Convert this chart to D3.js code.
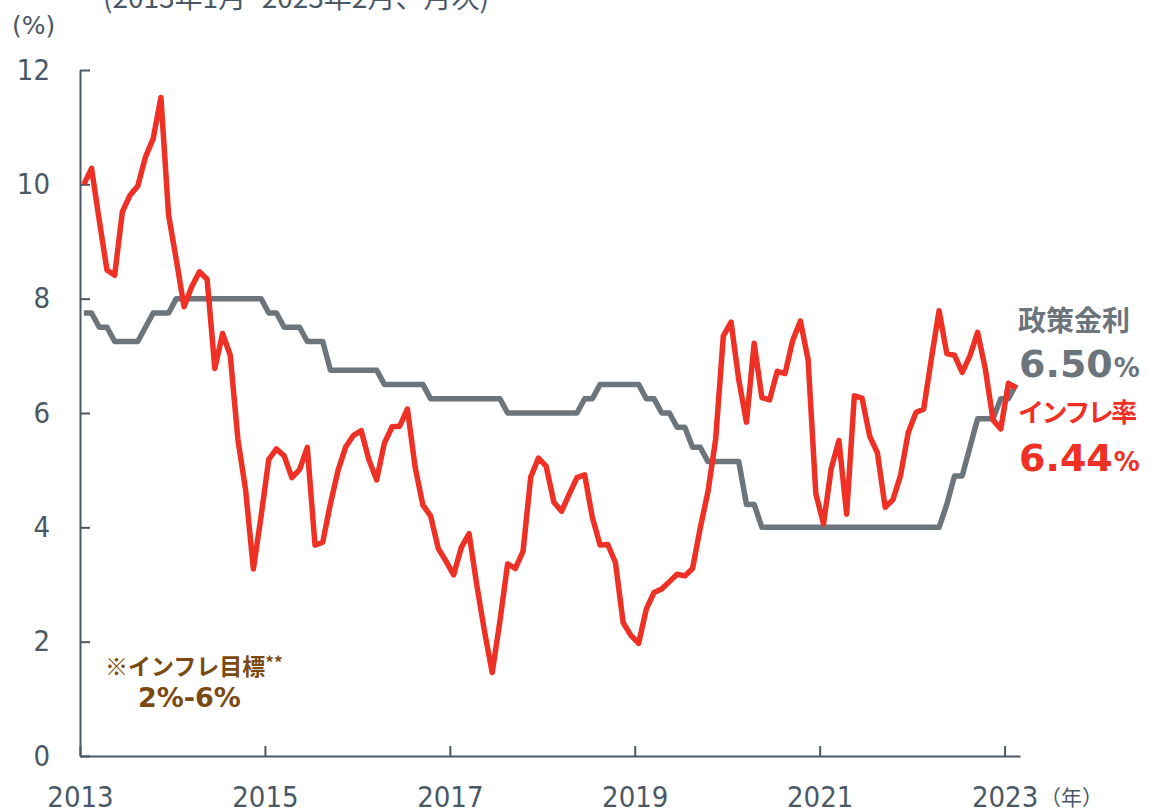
<!DOCTYPE html>
<html>
<head>
<meta charset="utf-8">
<script src="https://cdn.jsdelivr.net/npm/d3@7"></script>
<style>
  body { margin: 0; background: #fff; }
  svg { display: block; }
  .axis path, .axis line { stroke: #4a5866; stroke-width: 2; }
  .axis text {
    fill: #4a5866;
    font-family: "DejaVu Sans Condensed", "DejaVu Sans", sans-serif;
    font-stretch: condensed;
    font-size: 29px;
  }
</style>
</head>
<body>
<svg id="chart" width="1153" height="809"></svg>
<script>
// monthly, Jan 2013 .. Feb 2023 (122 months)
const startYear = 2013;
const monthCount = 122;

// inflation rate (%)
const inflation = [
  10.0, 10.28, 9.37, 8.5, 8.41, 9.52, 9.81, 9.97, 10.48, 10.8, 11.52, 9.46,
  8.68, 7.86, 8.21, 8.47, 8.34, 6.78, 7.39, 7.01, 5.53, 4.65, 3.27, 4.19,
  5.19, 5.37, 5.25, 4.87, 5.01, 5.40, 3.69, 3.74, 4.41, 5.0, 5.41, 5.61,
  5.69, 5.18, 4.83, 5.47, 5.76, 5.77, 6.07, 5.05, 4.39, 4.20, 3.63, 3.41,
  3.17, 3.65, 3.89, 2.99, 2.18, 1.46, 2.36, 3.36, 3.28, 3.58, 4.88, 5.21,
  5.07, 4.44, 4.28, 4.58, 4.87, 4.92, 4.17, 3.69, 3.70, 3.38, 2.33, 2.11,
  1.97, 2.57, 2.86, 2.92, 3.05, 3.18, 3.15, 3.28, 3.99, 4.62, 5.54, 7.35,
  7.59, 6.58, 5.84, 7.22, 6.27, 6.23, 6.73, 6.69, 7.27, 7.61, 6.93, 4.59,
  4.06, 5.03, 5.52, 4.23, 6.30, 6.26, 5.59, 5.30, 4.35, 4.48, 4.91, 5.66,
  6.01, 6.07, 6.95, 7.79, 7.04, 7.01, 6.71, 7.00, 7.41, 6.77, 5.88, 5.72,
  6.52, 6.44
];

// policy rate (%)
const policyRate = [
  7.75, 7.75, 7.5, 7.5, 7.25, 7.25, 7.25, 7.25, 7.5, 7.75, 7.75, 7.75,
  8.0, 8.0, 8.0, 8.0, 8.0, 8.0, 8.0, 8.0, 8.0, 8.0, 8.0, 8.0,
  7.75, 7.75, 7.5, 7.5, 7.5, 7.25, 7.25, 7.25, 6.75, 6.75, 6.75, 6.75,
  6.75, 6.75, 6.75, 6.5, 6.5, 6.5, 6.5, 6.5, 6.5, 6.25, 6.25, 6.25,
  6.25, 6.25, 6.25, 6.25, 6.25, 6.25, 6.25, 6.0, 6.0, 6.0, 6.0, 6.0,
  6.0, 6.0, 6.0, 6.0, 6.0, 6.25, 6.25, 6.5, 6.5, 6.5, 6.5, 6.5,
  6.5, 6.25, 6.25, 6.0, 6.0, 5.75, 5.75, 5.4, 5.4, 5.15, 5.15, 5.15,
  5.15, 5.15, 4.4, 4.4, 4.0, 4.0, 4.0, 4.0, 4.0, 4.0, 4.0, 4.0,
  4.0, 4.0, 4.0, 4.0, 4.0, 4.0, 4.0, 4.0, 4.0, 4.0, 4.0, 4.0,
  4.0, 4.0, 4.0, 4.0, 4.4, 4.9, 4.9, 5.4, 5.9, 5.9, 5.9, 6.25,
  6.25, 6.5
];

const yearTicks = [2013, 2015, 2017, 2019, 2021, 2023];
const yTicks = [0, 2, 4, 6, 8, 10, 12];

const svg = d3.select('#chart');

// month index scale: each month is a slot, points sit in the middle
const x = d3.scaleLinear().domain([0, monthCount]).range([80, 1020]);
const y = d3.scaleLinear().domain([0, 12]).range([756, 70]);

svg.append('g')
  .attr('class', 'axis')
  .attr('transform', 'translate(0,756)')
  .call(d3.axisBottom(x)
    .tickValues(yearTicks.map(yr => (yr - startYear) * 12))
    .tickFormat(i => String(startYear + i / 12))
    .tickSize(-10).tickSizeOuter(0).tickPadding(30));

svg.append('g')
  .attr('class', 'axis')
  .attr('transform', 'translate(80,0)')
  .call(d3.axisLeft(y).tickValues(yTicks).tickSize(-10).tickSizeOuter(0).tickPadding(30));

const line = d3.line()
  .x((d, i) => x(i + 0.5))
  .y(d => y(d));

svg.append('path')
  .datum(policyRate)
  .attr('d', line)
  .attr('fill', 'none')
  .attr('stroke', '#6c747c')
  .attr('stroke-width', 5.5)
  .attr('stroke-linejoin', 'round');

svg.append('path')
  .datum(inflation)
  .attr('d', line)
  .attr('fill', 'none')
  .attr('stroke', '#ee3124')
  .attr('stroke-width', 5.5)
  .attr('stroke-linejoin', 'round');

// texts
const cjk = '"Noto Sans CJK JP", sans-serif';
const num = '"DejaVu Sans", Verdana, sans-serif';

svg.append('text')
  .attr('x', 103).attr('y', 8)
  .attr('font-family', cjk).attr('font-size', 28).attr('fill', '#4a5866')
  .text('(2013年1月~2023年2月、月次)');

svg.append('text')
  .attr('x', 12).attr('y', 34)
  .attr('font-family', num).attr('font-size', 25).attr('fill', '#4a5866')
  .text('(%)');

svg.append('text')
  .attr('x', 1040).attr('y', 805)
  .attr('font-family', cjk).attr('font-size', 21).attr('fill', '#4a5866')
  .text('（年）');

function endLabel(name, value, color, yName, yVal, nameSize, spacing) {
  svg.append('text')
    .attr('x', 1018).attr('y', yName)
    .attr('font-family', cjk).attr('font-size', nameSize).attr('font-weight', 'bold')
    .attr('letter-spacing', spacing)
    .attr('fill', color).text(name);
  const t = svg.append('text')
    .attr('x', 1019).attr('y', yVal)
    .attr('font-family', num).attr('font-weight', 'bold').attr('fill', color);
  t.append('tspan').attr('font-size', 38).text(value);
  t.append('tspan').attr('font-size', 26).attr('dx', 1).text('%');
}
endLabel('政策金利', policyRate[monthCount - 1].toFixed(2), '#6c747c', 331, 377, 28, 0);
endLabel('インフレ率', inflation[monthCount - 1].toFixed(2), '#ee3124', 422, 471, 26, -2.5);

const target = svg.append('text')
  .attr('x', 105).attr('y', 675)
  .attr('font-family', cjk).attr('font-size', 23).attr('font-weight', 'bold')
  .attr('fill', '#7a4a12');
target.append('tspan').text('※インフレ目標');
target.append('tspan').attr('font-size', 17).attr('dy', -6).text('**');

svg.append('text')
  .attr('x', 138).attr('y', 707)
  .attr('font-family', num).attr('font-size', 27).attr('font-weight', 'bold')
  .attr('fill', '#7a4a12')
  .text('2%-6%');
</script>
</body>
</html>
